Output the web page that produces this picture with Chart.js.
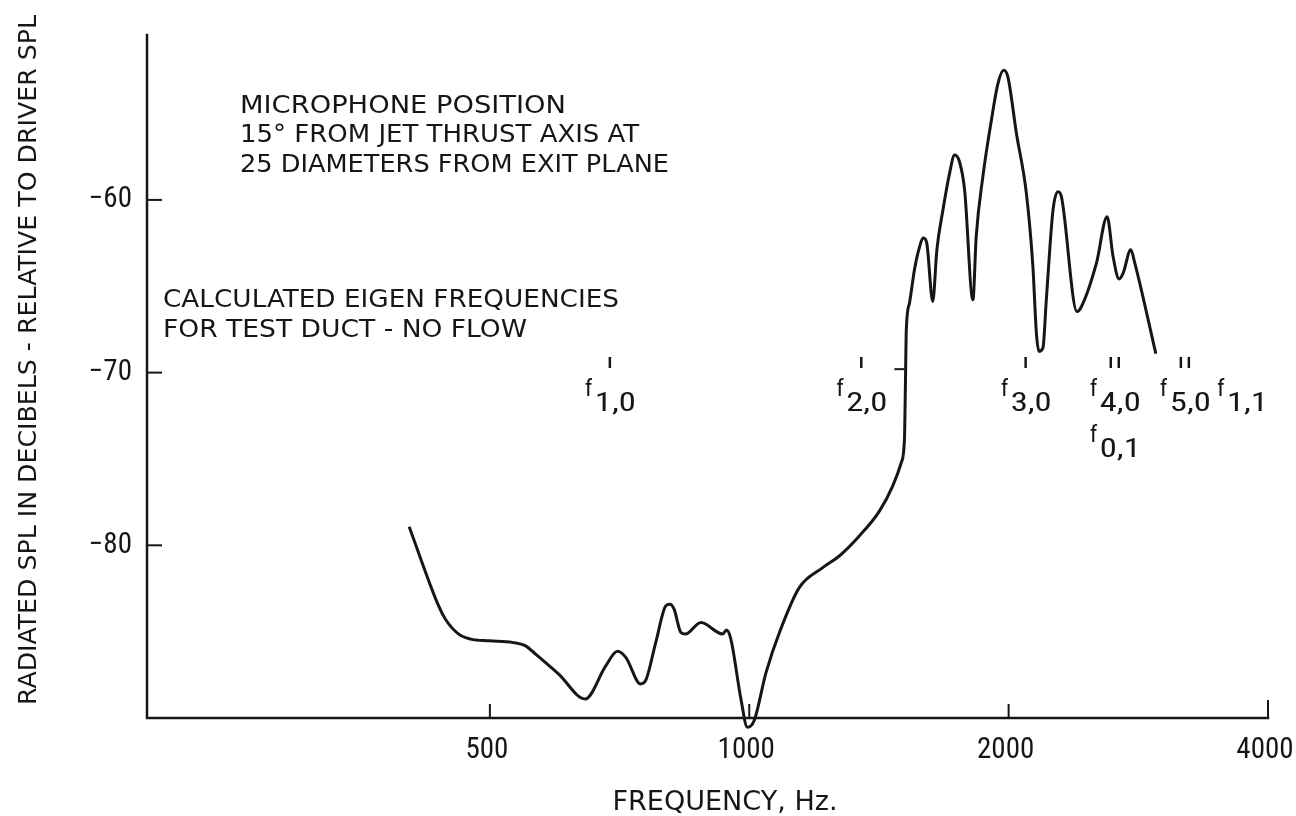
<!DOCTYPE html>
<html>
<head>
<meta charset="utf-8">
<title>Radiated SPL vs frequency</title>
<script src="https://cdn.jsdelivr.net/npm/chart.js@4.4.1/dist/chart.umd.min.js"></script>
<style>
  html, body { margin: 0; padding: 0; background: #ffffff; }
  canvas { display: block; }
</style>
</head>
<body>
<canvas id="spl" width="1296" height="816"></canvas>
<script>
// Measured response: frequency (Hz) and radiated SPL relative to driver SPL (dB)
const freqHz = [403, 436, 444, 460, 475, 499, 531, 550, 565, 601,
  645, 681.5, 703, 719, 748, 758, 779, 800, 809, 818,
  833, 843, 879, 931, 941, 952, 978, 995, 1013, 1046,
  1084, 1143, 1217, 1272, 1342, 1416, 1467, 1501, 1514, 1517,
  1519, 1521, 1534.5, 1555, 1573, 1593, 1607, 1633, 1651, 1678,
  1708, 1731, 1754, 1778, 1818, 1834, 1867, 1910, 1944, 1973,
  1996, 2042, 2097, 2134, 2154, 2169, 2192, 2212, 2252, 2282,
  2303, 2401, 2430, 2529, 2602, 2644, 2687, 2716, 2772, 2802, 2964];
const splDb = [-78.92, -83.51, -84.28, -85.14, -85.43, -85.53, -85.62, -85.82, -86.30, -87.46,
  -88.90, -86.98, -86.14, -86.49, -88.03, -87.84, -85.62, -83.51, -83.41, -83.70,
  -85.05, -85.14, -84.47, -85.14, -84.91, -85.43, -88.90, -90.54, -90.16, -87.36,
  -85.05, -82.45, -81.29, -80.62, -79.46, -78.02, -76.57, -75.22, -73.87, -71.56,
  -69.64, -67.71, -65.97, -64.05, -62.89, -62.21, -62.50, -65.88, -62.89, -60.58,
  -58.46, -57.40, -57.79, -59.42, -65.78, -62.12, -58.65, -55.38, -53.25, -52.49,
  -52.87, -56.14, -59.61, -63.86, -67.71, -68.77, -68.57, -65.78, -60.58, -59.52,
  -59.81, -66.46, -66.17, -63.66, -60.97, -63.28, -64.58, -64.24, -62.89, -63.66, -68.90];

// Axis ticks
const xTickHz = [500, 1000, 2000, 4000];
const yTickDb = [-80, -70, -60];

// Calculated eigen frequencies of the test duct (no flow)
const eigenMode = ['1,0', '2,0', '3,0', '4,0', '5,0', '1,1', '0,1'];
const eigenHz = [689, 1349, 2093, 2656, 3203, 3731, 2656];
const eigenPrimes = [1, 1, 1, 2, 2, 0, 0];
const eigenRow = [0, 0, 0, 0, 0, 0, 1];

// Small level mark beside the steep rise
const markHz = [1474, 1514];
const markDb = -69.8;

const noteMic = ['MICROPHONE POSITION', '15\u00B0 FROM JET THRUST AXIS AT', '25 DIAMETERS FROM EXIT PLANE'];
const noteEigen = ['CALCULATED EIGEN FREQUENCIES', 'FOR TEST DUCT - NO FLOW'];
const xTitle = 'FREQUENCY, Hz.';
const yTitle = 'RADIATED SPL IN DECIBELS - RELATIVE TO DRIVER SPL';

const INK = '#161616';
const FACE = '"DejaVu Sans Condensed", "DejaVu Sans", sans-serif';
const NUM_FACE = '"Roboto Condensed", "DejaVu Sans Condensed", sans-serif';

function putText(ctx, text, x, y, size, width, align, face) {
  ctx.save();
  ctx.font = size + 'px ' + (face || FACE);
  ctx.textAlign = align || 'left';
  ctx.textBaseline = 'alphabetic';
  const w = ctx.measureText(text).width;
  const sx = width ? width / w : 1;
  ctx.translate(x, y);
  ctx.scale(sx, 1);
  ctx.fillStyle = INK;
  ctx.fillText(text, 0, 0);
  ctx.restore();
}

// Axis frame with inward ticks, titles and notes
const framePlugin = {
  id: 'frame',
  afterDatasetsDraw(chart) {
    const { ctx, chartArea, scales } = chart;
    const { left, right, top, bottom } = chartArea;
    const x = scales.x, y = scales.y;
    ctx.save();
    ctx.strokeStyle = INK;
    ctx.lineCap = 'square';
    ctx.lineWidth = 2.5;
    ctx.beginPath();
    ctx.moveTo(left, top);
    ctx.lineTo(left, bottom);
    ctx.lineTo(right, bottom);
    ctx.stroke();
    ctx.lineWidth = 2;
    ctx.lineCap = 'butt';
    xTickHz.forEach(v => {
      const px = x.getPixelForValue(v);
      ctx.beginPath();
      ctx.moveTo(px, bottom);
      ctx.lineTo(px, bottom - (v === 4000 ? 18 : 14));
      ctx.stroke();
    });
    yTickDb.forEach(v => {
      const py = y.getPixelForValue(v);
      ctx.beginPath();
      ctx.moveTo(left, py);
      ctx.lineTo(left + 15, py);
      ctx.stroke();
    });

    // eigen frequency marks and labels
    const rowY = y.getPixelForValue(-69.73);
    eigenHz.forEach((hz, i) => {
      const px = x.getPixelForValue(hz);
      ctx.lineWidth = 2.5;
      const n = eigenPrimes[i];
      for (let k = 0; k < n; k++) {
        const ox = px + (k - (n - 1) / 2) * 8;
        ctx.beginPath();
        ctx.moveTo(ox, rowY - 11);
        ctx.lineTo(ox, rowY);
        ctx.stroke();
      }
      const base = rowY + 43 + eigenRow[i] * 46;
      putText(ctx, 'f', px - 25, base - 15, 24, 0, 'left', NUM_FACE);
      putText(ctx, eigenMode[i], px - 15, base, 26, 41, 'left', NUM_FACE);
    });

    // short level mark
    ctx.lineWidth = 2;
    const my = y.getPixelForValue(markDb);
    ctx.beginPath();
    ctx.moveTo(x.getPixelForValue(markHz[0]), my);
    ctx.lineTo(x.getPixelForValue(markHz[1]), my);
    ctx.stroke();

    // notes
    const micW = [326, 399, 429];
    noteMic.forEach((t, i) => putText(ctx, t, 240, 113 + i * 29.3, 25, micW[i], 'left'));
    const eigW = [456, 364];
    noteEigen.forEach((t, i) => putText(ctx, t, 163, 307 + i * 30, 25, eigW[i], 'left'));

    // axis titles
    putText(ctx, xTitle, 725, 810, 27, 225, 'center');
    ctx.save();
    ctx.translate(36, 360);
    ctx.rotate(-Math.PI / 2);
    putText(ctx, yTitle, 0, 0, 25, 690, 'center');
    ctx.restore();

    ctx.restore();
  }
};

new Chart(document.getElementById('spl'), {
  type: 'line',
  data: {
    datasets: [{
      data: freqHz.map((f, i) => ({ x: f, y: splDb[i] })),
      borderColor: INK,
      borderWidth: 3,
      pointRadius: 0,
      cubicInterpolationMode: 'monotone',
      fill: false,
      clip: false
    }]
  },
  options: {
    responsive: false,
    animation: false,
    devicePixelRatio: 1,
    layout: { padding: { top: 35, right: 28, bottom: 0, left: 0 } },
    plugins: { legend: { display: false }, tooltip: { enabled: false } },
    scales: {
      x: {
        type: 'logarithmic',
        min: 200,
        max: 4000,
        afterBuildTicks: s => { s.ticks = xTickHz.map(v => ({ value: v })); },
        afterFit: s => { s.height = 98; s.paddingLeft = 0; s.paddingRight = 0; },
        grid: { display: false, drawTicks: false },
        border: { display: false },
        ticks: {
          autoSkip: false,
          maxRotation: 0,
          padding: 15,
          labelOffset: -3,
          color: INK,
          font: { family: NUM_FACE, size: 29 },
          callback: v => String(v)
        }
      },
      y: {
        min: -90,
        max: -50.45,
        afterBuildTicks: s => { s.ticks = yTickDb.map(v => ({ value: v })); },
        afterFit: s => { s.width = 147; s.paddingTop = 0; s.paddingBottom = 0; },
        grid: { display: false, drawTicks: false },
        border: { display: false },
        ticks: {
          padding: 15,
          color: INK,
          font: { family: NUM_FACE, size: 29 },
          callback: v => String(v).replace('-', '\u2212')
        }
      }
    }
  },
  plugins: [framePlugin]
});
</script>
</body>
</html>
